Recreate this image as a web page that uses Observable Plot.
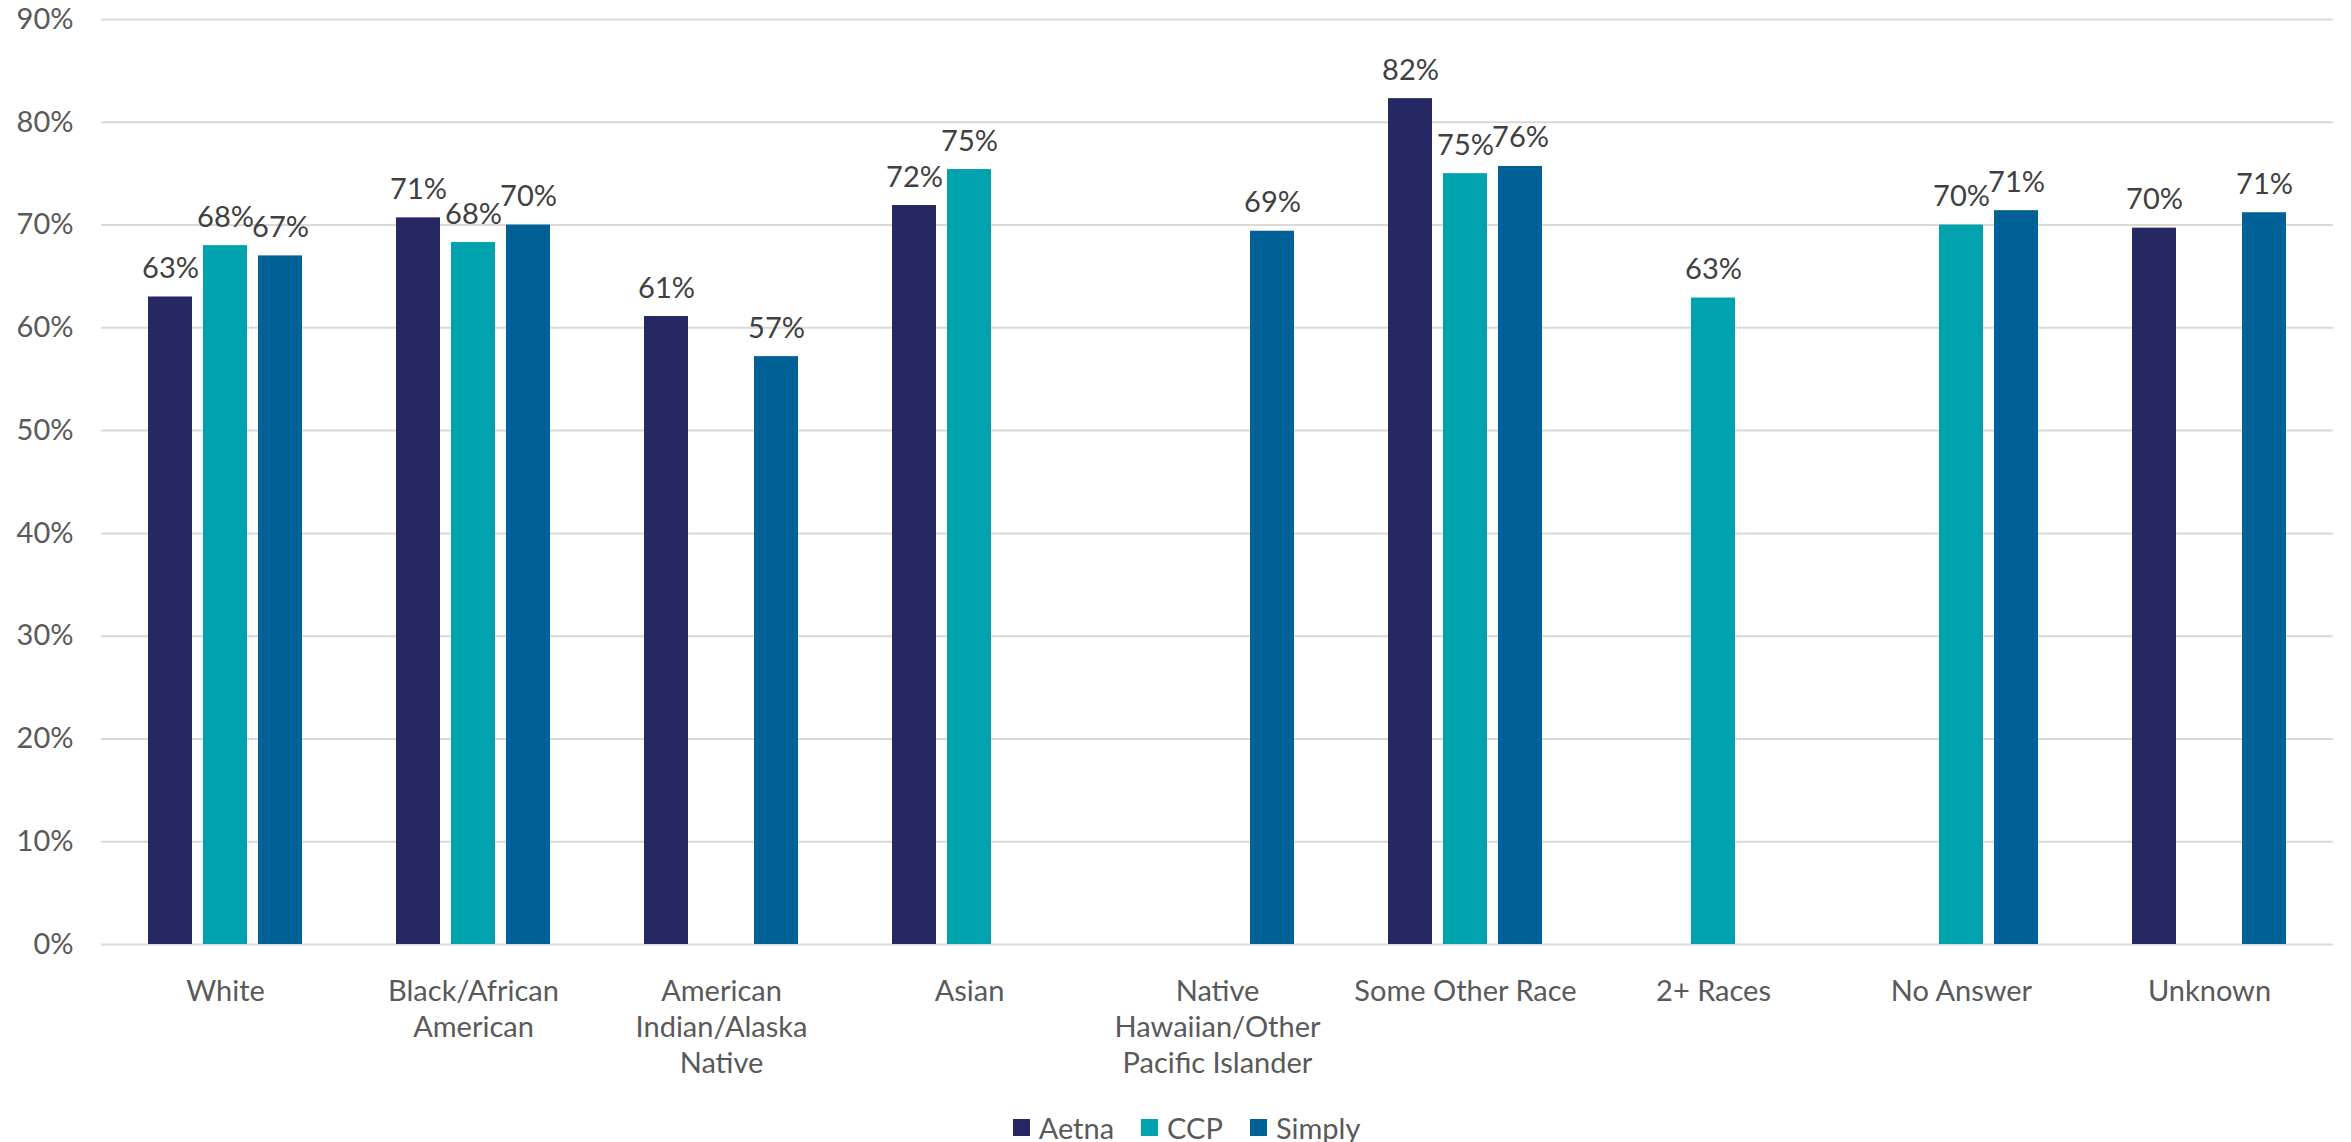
<!DOCTYPE html>
<html>
<head>
<meta charset="utf-8">
<script src="https://cdn.jsdelivr.net/npm/d3@7"></script>
<script src="https://cdn.jsdelivr.net/npm/@observablehq/plot@0.6"></script>
<style>
  html, body { margin: 0; padding: 0; background: #fff; }
  body { font-family: Lato, "Open Sans", sans-serif; }
  #legend {
    display: flex; justify-content: center; align-items: center;
    gap: 27px; height: 42px; padding-left: 22px; margin-top: 6px;
    font-size: 29px; color: #595959;
  }
  #legend .item { display: inline-flex; align-items: center; gap: 9px; }
  #legend .swatch { width: 17px; height: 17px; display: inline-block; }
</style>
</head>
<body>
<div id="chart"></div>
<div id="legend"></div>
<script>
// Race / ethnicity categories along the x axis
const categories = [
  "White", "Black/African American", "American Indian/Alaska Native", "Asian",
  "Native Hawaiian/Other Pacific Islander", "Some Other Race", "2+ Races",
  "No Answer", "Unknown"
];
// Wrapped axis labels for each category
const categoryLabels = [
  "White", "Black/African\nAmerican", "American\nIndian/Alaska\nNative", "Asian",
  "Native\nHawaiian/Other\nPacific Islander", "Some Other Race", "2+ Races",
  "No Answer", "Unknown"
];

// Plans (series) and their colours
const series = ["Aetna", "CCP", "Simply"];
const seriesColors = ["#252862", "#00A2AE", "#006196"];

// Percentages per category (null = not reported)
const aetna  = [63.0, 70.7, 61.1, 71.9, null, 82.3, null, null, 69.7];
const ccp    = [68.0, 68.3, null, 75.4, null, 75.0, 62.9, 70.0, null];
const simply = [67.0, 70.0, 57.2, null, 69.4, 75.7, null, 71.4, 71.2];

// Y axis ticks (percent)
const yTicks = [0, 10, 20, 30, 40, 50, 60, 70, 80, 90];

const seriesValues = [aetna, ccp, simply];
const rows = [];
categories.forEach((category, i) => {
  seriesValues.forEach((values, j) => {
    if (values[i] != null) rows.push({category, series: series[j], value: values[i]});
  });
});
const labelOf = new Map(categories.map((c, i) => [c, categoryLabels[i]]));

const chart = Plot.plot({
  width: 2351,
  height: 1100,
  marginTop: 19,
  marginBottom: 156,
  marginLeft: 97,
  marginRight: 14,
  style: {
    fontFamily: "Lato, 'Open Sans', sans-serif",
    fontSize: "29px",
    color: "#595959",
    background: "#fff",
    overflow: "visible"
  },
  fx: {domain: categories, padding: 0, label: null},
  x: {domain: series, paddingInner: 0.2, paddingOuter: 0.84, axis: null},
  y: {domain: [0, 90], label: null, axis: null},
  color: {domain: series, range: seriesColors},
  marks: [
    Plot.gridY(yTicks, {stroke: "#d9d9d9", strokeOpacity: 1, strokeWidth: 2}),
    Plot.axisY(yTicks, {
      tickSize: 0, tickPadding: 28, label: null,
      tickFormat: d => d + "%", fill: "#595959", fontSize: 29
    }),
    Plot.axisFx({
      anchor: "bottom", tickSize: 0, tickPadding: 31, label: null,
      tickFormat: c => labelOf.get(c), lineHeight: 1.24,
      fill: "#595959", fontSize: 29
    }),
    Plot.barY(rows, {fx: "category", x: "series", y: "value", fill: "series"}),
    Plot.text(rows, {
      fx: "category", x: "series", y: "value",
      text: d => Math.round(d.value) + "%",
      lineAnchor: "bottom", dy: -19,
      fill: "#404040", fontSize: 29
    })
  ]
});
document.getElementById("chart").appendChild(chart);

// Legend below the chart
const legend = document.getElementById("legend");
series.forEach((name, i) => {
  const item = document.createElement("span");
  item.className = "item";
  const sw = document.createElement("span");
  sw.className = "swatch";
  sw.style.background = seriesColors[i];
  const label = document.createElement("span");
  label.textContent = name;
  item.appendChild(sw);
  item.appendChild(label);
  legend.appendChild(item);
});
</script>
</body>
</html>
